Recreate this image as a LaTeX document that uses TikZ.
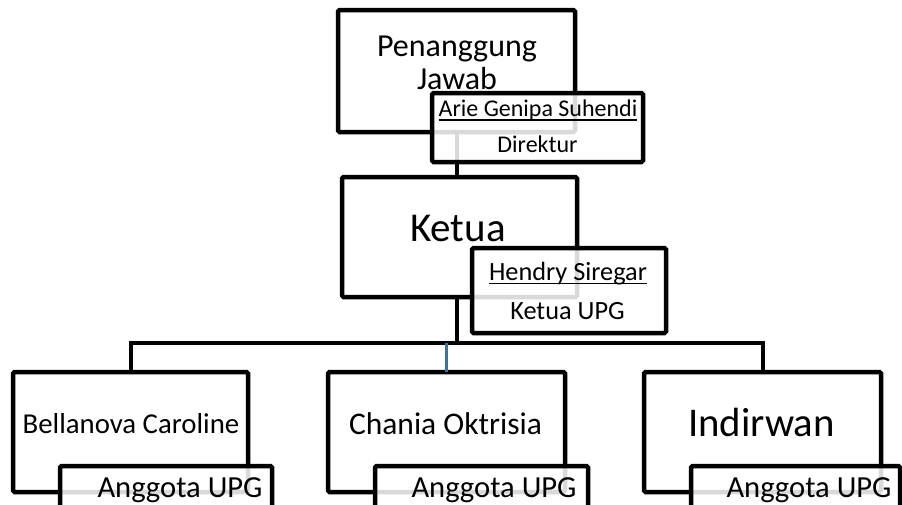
\documentclass[tikz,border=0pt]{standalone}
\usepackage{fontspec}
\setmainfont{Carlito}
\definecolor{connblue}{HTML}{41719C}
\newcommand\fszA{\fontsize{32}{38}\selectfont}
\newcommand\fszK{\fontsize{41}{48}\selectfont}
\newcommand\fszS{\fontsize{24}{29}\selectfont}
\newcommand\fszH{\fontsize{26.3}{31}\selectfont}
\newcommand\fszBel{\fontsize{28.8}{34}\selectfont}
\newcommand\fszCha{\fontsize{31.5}{37}\selectfont}
\newcommand\fszInd{\fontsize{40.8}{48}\selectfont}
\newcommand\fszAng{\fontsize{30.6}{36}\selectfont}
\begin{document}
\begin{tikzpicture}[x=1pt,y=-1pt,
  box/.style={draw=black, line width=4.5pt, fill=white, rounded corners=1.5pt, inner sep=0pt, outer sep=0pt},
  subbox/.style={draw=black, line width=4.5pt, fill=white, fill opacity=0.85, rounded corners=1.5pt, inner sep=0pt, outer sep=0pt},
  conn/.style={draw=black, line width=4pt},
  blueconn/.style={draw=connblue, line width=3pt},
  uline/.style={draw=black, line width=1.5pt},
  lbl/.style={anchor=base, inner sep=0pt, outer sep=0pt, text=black}]
\fill[white] (0,0) rectangle (902,504);
\useasboundingbox (0,0) rectangle (902,504);
\clip (0,0) rectangle (902,504);

% main boxes
\node[box, minimum width=237pt, minimum height=122pt] (pj) at (456.5,71) {};
\node[box, minimum width=235pt, minimum height=120pt] (ketua) at (459.5,237) {};
\node[box, minimum width=235pt, minimum height=120pt] (bel) at (130.5,432) {};
\node[box, minimum width=237pt, minimum height=120pt] (cha) at (446.5,432) {};
\node[box, minimum width=237pt, minimum height=120pt] (ind) at (762.5,432) {};

% connectors
\coordinate (busy) at (0,343);
\draw[conn] (pj.south) -- (pj.south |- ketua.north);
\draw[conn] (pj.south |- ketua.south) -- (pj.south |- busy) -| (bel.north);
\draw[conn] (pj.south |- busy) -| (ind.north);
\draw[blueconn] (cha.north |- busy) -- (cha.north);

% sub boxes (semi-transparent)
\node[subbox, minimum width=211pt, minimum height=69pt] (arie) at (537.5,127.5) {};
\node[subbox, minimum width=194pt, minimum height=85pt] (hendry) at (569,290.5) {};
\node[subbox, minimum width=212pt, minimum height=64pt] (belsub) at (166,498) {};
\node[subbox, minimum width=213pt, minimum height=64pt] (chasub) at (481.5,498) {};
\node[subbox, minimum width=209pt, minimum height=64pt] (indsub) at (795.5,498) {};

% texts
\node[lbl, font=\fszA] (pjA) at (457,56) {Penanggung};
\node[lbl, font=\fszA] (pjB) at (457,89) {Jawab};
\node[lbl, font=\fszK] (ketT) at (458,241) {Ketua};
\node[lbl, font=\fszS] (arieN) at (538,116) {Arie Genipa Suhendi};
\node[lbl, font=\fszS] (arieR) at (537.5,152) {Direktur};
\node[lbl, font=\fszH] (hendN) at (568,280) {Hendry Siregar};
\node[lbl, font=\fszH] (hendR) at (567.5,319) {Ketua UPG};
\node[lbl, font=\fszBel] (belT) at (131,433) {Bellanova Caroline};
\node[lbl, font=\fszCha] (chaT) at (445.5,434) {Chania Oktrisia};
\node[lbl, font=\fszInd] (indT) at (761.5,436) {Indirwan};
\node[lbl, font=\fszAng] (belR) at (180,497) {Anggota UPG};
\node[lbl, font=\fszAng] (chaR) at (494,497) {Anggota UPG};
\node[lbl, font=\fszAng] (indR) at (809,497) {Anggota UPG};

% underlines
\draw[uline] ([yshift=-4pt]arieN.base west) -- ([yshift=-4pt]arieN.base east);
\draw[uline] ([yshift=-3.5pt]hendN.base west) -- ([yshift=-3.5pt]hendN.base east);
\end{tikzpicture}
\end{document}
